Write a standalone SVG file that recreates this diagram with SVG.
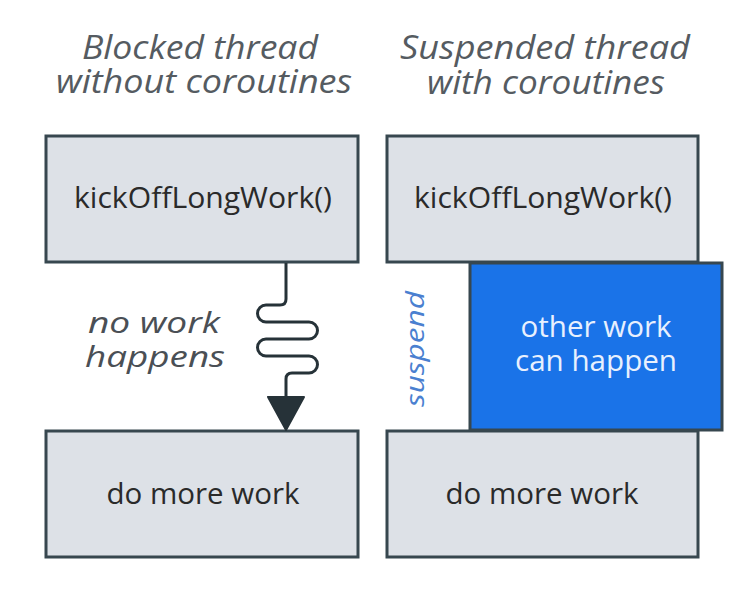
<svg xmlns="http://www.w3.org/2000/svg" width="751" height="596" viewBox="0 0 751 596">
<style>
.box{fill:#dde1e7;stroke:#37474f;stroke-width:3}
.blue{fill:#1a73e8;stroke:#37474f;stroke-width:3}
.t{font-family:"Open Sans","Noto Sans",sans-serif;font-size:29px;fill:#2a2a2a;text-anchor:middle}
.title{font-family:"Open Sans","Noto Sans",sans-serif;font-style:italic;font-size:32px;fill:#555b61;text-anchor:middle}
.lbl{font-family:"Open Sans","Noto Sans",sans-serif;font-style:italic;font-size:29px;fill:#4a4f55;text-anchor:middle}
.w{fill:#e8f0fe}
.sus{font-family:"Open Sans","Noto Sans",sans-serif;font-style:italic;font-size:25px;fill:#4a80d0;text-anchor:middle}
.conn{fill:none;stroke:#263238;stroke-width:3}
</style>
<rect width="751" height="596" fill="#ffffff"/>
<g id="title-left">
<text class="title" x="200" y="59" textLength="236" lengthAdjust="spacingAndGlyphs">Blocked thread</text>
<text class="title" x="204" y="93" textLength="296" lengthAdjust="spacingAndGlyphs">without coroutines</text>
</g>
<g id="title-right">
<text class="title" x="545" y="59" textLength="290" lengthAdjust="spacingAndGlyphs">Suspended thread</text>
<text class="title" x="546" y="94" textLength="238" lengthAdjust="spacingAndGlyphs">with coroutines</text>
</g>
<g id="left-kickoff">
<rect class="box" x="46" y="136" width="312" height="126"/>
<text class="t" x="203" y="208" textLength="258" lengthAdjust="spacingAndGlyphs">kickOffLongWork()</text>
</g>
<g id="left-domore">
<rect class="box" x="46" y="431" width="312" height="126"/>
<text class="t" x="203" y="504" textLength="193" lengthAdjust="spacingAndGlyphs">do more work</text>
</g>
<g id="right-kickoff">
<rect class="box" x="387" y="136" width="311" height="126"/>
<text class="t" x="543" y="208" textLength="258" lengthAdjust="spacingAndGlyphs">kickOffLongWork()</text>
</g>
<g id="right-domore">
<rect class="box" x="387" y="431" width="311" height="126"/>
<text class="t" x="542" y="504" textLength="193" lengthAdjust="spacingAndGlyphs">do more work</text>
</g>
<g id="other-work">
<rect class="blue" x="470" y="263" width="252" height="167"/>
<text class="t w" x="596" y="337" textLength="151" lengthAdjust="spacingAndGlyphs">other work</text>
<text class="t w" x="596" y="371" textLength="162" lengthAdjust="spacingAndGlyphs">can happen</text>
</g>
<g id="suspend-label">
<text class="sus" transform="translate(424,349) rotate(-90)" textLength="116" lengthAdjust="spacingAndGlyphs">suspend</text>
</g>
<g id="no-work-label">
<text class="lbl" x="154" y="333" textLength="132" lengthAdjust="spacingAndGlyphs">no work</text>
<text class="lbl" x="155" y="367" textLength="140" lengthAdjust="spacingAndGlyphs">happens</text>
</g>
<g id="connectors">
<path class="conn" d="M286,263 V299 Q286,305 280,305 H266 A8.5,8.5 0 0 0 266,322 H309 A8.5,8.5 0 0 1 309,339 H266 A8.5,8.5 0 0 0 266,356 H309 A8.5,8.5 0 0 1 309,373 H292 Q286,373 286,379 V400"/>
<polygon points="268,397 304,397 286,430" fill="#263238" stroke="#263238" stroke-width="2" stroke-linejoin="round"/>
</g>
</svg>
